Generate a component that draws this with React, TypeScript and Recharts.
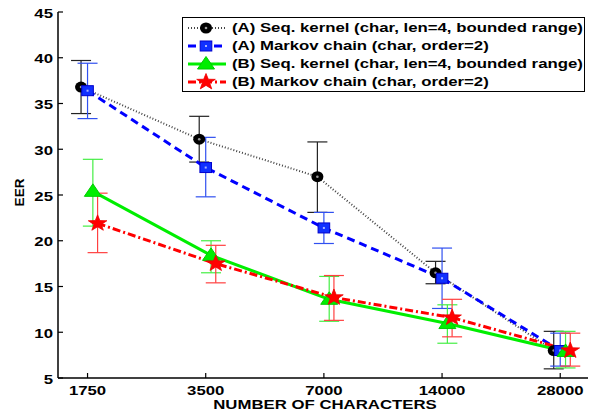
import React from 'react'
import { ComposedChart, Line, XAxis, YAxis, ErrorBar } from 'recharts'

// number of characters (log2 spaced, drawn at equal steps)
const characters = [1750, 3500, 7000, 14000, 28000]
const yTicks = [5, 10, 15, 20, 25, 30, 35, 40, 45]

// (A) Seq. kernel
const seqA = [36.8, 31.1, 27.0, 16.5, 8.0]
const seqALow = [33.9, 28.6, 23.1, 15.3, 6.0]
const seqAHigh = [39.7, 33.6, 30.8, 17.75, 10.1]

// (A) Markov chain
const markovA = [36.4, 28.0, 21.4, 15.9, 8.0]
const markovALow = [33.35, 24.8, 19.7, 12.6, 6.3]
const markovAHigh = [39.4, 31.3, 23.1, 19.2, 9.9]

// (B) Seq. kernel
const seqB = [25.4, 18.4, 13.6, 10.95, 7.9]
const seqBLow = [21.6, 16.5, 11.2, 8.8, 6.1]
const seqBHigh = [28.9, 20.0, 16.1, 13.0, 10.1]

// (B) Markov chain
const markovB = [21.9, 17.5, 13.8, 11.6, 8.0]
const markovBLow = [18.7, 15.4, 11.3, 9.5, 6.3]
const markovBHigh = [25.2, 19.5, 16.2, 13.6, 9.9]

const seriesNames = [
  '(A) Seq. kernel (char, len=4, bounded range)',
  '(A) Markov chain (char, order=2)',
  '(B) Seq. kernel (char, len=4, bounded range)',
  '(B) Markov chain (char, order=2)',
]
// small horizontal jitter so the error bars don't overlap
const seriesOffsets = [-0.055, 0, 0.045, 0.085]

const FONT = '"Liberation Sans", Arial, Helvetica, sans-serif'
const STRETCH = 1.29

type MarkerKind = 'circle' | 'square' | 'triangle' | 'star'

interface SeriesStyle {
  color: string
  errorColor: string
  width: number
  dash?: string
  marker: MarkerKind
}

const styles: SeriesStyle[] = [
  { color: '#444', errorColor: '#222', width: 2, dash: '1 2', marker: 'circle' },
  { color: '#0000ff', errorColor: '#3050f0', width: 3, dash: '8 5', marker: 'square' },
  { color: '#00ee00', errorColor: '#44ee44', width: 3, marker: 'triangle' },
  { color: '#ff0000', errorColor: '#ff4040', width: 3, dash: '8 3 2 3', marker: 'star' },
]

function buildRows(values: number[], low: number[], high: number[], offset: number) {
  return characters.map((_, i) => ({
    x: i + offset,
    y: values[i],
    err: [values[i] - low[i], high[i] - values[i]],
  }))
}

const seriesData = [
  buildRows(seqA, seqALow, seqAHigh, seriesOffsets[0]),
  buildRows(markovA, markovALow, markovAHigh, seriesOffsets[1]),
  buildRows(seqB, seqBLow, seqBHigh, seriesOffsets[2]),
  buildRows(markovB, markovBLow, markovBHigh, seriesOffsets[3]),
]

function starPoints(cx: number, cy: number, outer: number, inner: number) {
  const pts: string[] = []
  for (let k = 0; k < 10; k++) {
    const r = k % 2 === 0 ? outer : inner
    const a = -Math.PI / 2 + (k * Math.PI) / 5
    pts.push(`${cx + r * Math.cos(a) * 1.15},${cy + r * Math.sin(a)}`)
  }
  return pts.join(' ')
}

function MarkerShape({ kind, cx, cy }: { kind: MarkerKind; cx: number; cy: number }) {
  if (kind === 'circle') {
    return (
      <g>
        <ellipse cx={cx} cy={cy} rx={6} ry={5.5} fill="#000" />
        <circle cx={cx} cy={cy} r={1.3} fill="#999" />
      </g>
    )
  }
  if (kind === 'square') {
    return (
      <g>
        <rect x={cx - 5.8} y={cy - 5} width={11.6} height={10} fill="#1030ff" stroke="#0000cc" strokeWidth={1} />
        <rect x={cx - 1} y={cy - 1} width={2} height={2} fill="#aab4ff" />
      </g>
    )
  }
  if (kind === 'triangle') {
    return (
      <polygon
        points={`${cx},${cy - 7.5} ${cx - 8.5},${cy + 5} ${cx + 8.5},${cy + 5}`}
        fill="#00ee00"
        stroke="#00cc00"
        strokeWidth={1}
      />
    )
  }
  return <polygon points={starPoints(cx, cy, 8.5, 3.4)} fill="#ff0000" stroke="#ee0000" strokeWidth={0.8} />
}

function makeDot(kind: MarkerKind) {
  return (props: any) => {
    const { cx, cy, key, index } = props
    if (cx == null || cy == null) return <g key={key ?? index} />
    return (
      <g key={key ?? `${kind}-${index}`}>
        <MarkerShape kind={kind} cx={cx} cy={cy} />
      </g>
    )
  }
}

const tickText = {
  fontFamily: FONT,
  fontWeight: 700,
  fontSize: 13,
  fill: '#000',
}

function BottomTick(props: any) {
  const { x, y, payload } = props
  return (
    <g>
      <line x1={x} y1={y} x2={x} y2={y - 5} stroke="#000" strokeWidth={1.2} />
      <text transform={`translate(${x},${y + 17}) scale(${STRETCH},1)`} textAnchor="middle" {...tickText}>
        {characters[payload.value]}
      </text>
    </g>
  )
}

function TopTick(props: any) {
  const { x, y } = props
  return <line x1={x} y1={y} x2={x} y2={y + 5} stroke="#000" strokeWidth={1.2} />
}

function LeftTick(props: any) {
  const { x, y, payload } = props
  return (
    <g>
      <line x1={x} y1={y} x2={x + 5} y2={y} stroke="#000" strokeWidth={1.2} />
      <text transform={`translate(${x - 5},${y + 5.5}) scale(${STRETCH},1)`} textAnchor="end" {...tickText}>
        {payload.value}
      </text>
    </g>
  )
}

function RightTick(props: any) {
  const { x, y } = props
  return <line x1={x} y1={y} x2={x - 5} y2={y} stroke="#000" strokeWidth={1.2} />
}

function XTitle(props: any) {
  const { viewBox } = props
  const { x, y, width } = viewBox
  return (
    <text transform={`translate(${x + width / 2 + 2},${y + 30.5}) scale(${STRETCH},1)`} textAnchor="middle" {...tickText}>
      NUMBER OF CHARACTERS
    </text>
  )
}

function YTitle(props: any) {
  const { viewBox } = props
  const { y, height } = viewBox
  return (
    <text
      transform={`translate(24,${y + height / 2 - 2.5}) rotate(-90)`}
      textAnchor="middle"
      {...tickText}
      fontSize={13.5}
    >
      EER
    </text>
  )
}

function LegendSample({ s }: { s: SeriesStyle }) {
  return (
    <svg width={40} height={18} style={{ display: 'block', flex: 'none' }}>
      <line x1={1} y1={9} x2={39} y2={9} stroke={s.color} strokeWidth={s.width} strokeDasharray={s.dash} />
      <MarkerShape kind={s.marker} cx={19} cy={9} />
    </svg>
  )
}

const xDomain = [-0.25, 4.235]

export default function App() {
  return (
    <div style={{ position: 'absolute', left: 0, top: 0, width: 592, height: 414, background: '#fff' }}>
      <ComposedChart width={592} height={414} margin={{ top: 12, right: 4, left: 0, bottom: 0 }}>
        <XAxis
          xAxisId="bottom"
          type="number"
          dataKey="x"
          domain={xDomain}
          ticks={[0, 1, 2, 3, 4]}
          allowDataOverflow
          height={36}
          axisLine={{ stroke: '#000', strokeWidth: 1.5 }}
          tickLine={false}
          tickSize={0}
          tickMargin={0}
          tick={<BottomTick />}
          interval={0}
          label={{ content: <XTitle /> }}
        />
        <XAxis
          xAxisId="top"
          orientation="top"
          type="number"
          dataKey="x"
          domain={xDomain}
          ticks={[0, 1, 2, 3, 4]}
          allowDataOverflow
          height={0}
          axisLine={{ stroke: '#000', strokeWidth: 1.5 }}
          tickLine={false}
          tickSize={0}
          tickMargin={0}
          tick={<TopTick />}
          interval={0}
        />
        <YAxis
          yAxisId="left"
          type="number"
          domain={[5, 45]}
          ticks={yTicks}
          allowDataOverflow
          width={58}
          axisLine={{ stroke: '#000', strokeWidth: 1.5 }}
          tickLine={false}
          tickSize={0}
          tickMargin={0}
          tick={<LeftTick />}
          interval={0}
          label={{ content: <YTitle /> }}
        />
        <YAxis
          yAxisId="right"
          orientation="right"
          type="number"
          domain={[5, 45]}
          ticks={yTicks}
          allowDataOverflow
          width={0}
          axisLine={{ stroke: '#000', strokeWidth: 1.5 }}
          tickLine={false}
          tickSize={0}
          tickMargin={0}
          tick={<RightTick />}
          interval={0}
        />
        {seriesData.map((rows, i) => {
          const s = styles[i]
          return (
            <Line
              key={seriesNames[i]}
              xAxisId="bottom"
              yAxisId="left"
              data={rows}
              dataKey="y"
              type="linear"
              stroke={s.color}
              strokeWidth={s.width}
              strokeDasharray={s.dash}
              dot={makeDot(s.marker)}
              activeDot={false}
              isAnimationActive={false}
            >
              <ErrorBar dataKey="err" direction="y" width={10} stroke={s.errorColor} strokeWidth={1.2} />
            </Line>
          )
        })}
      </ComposedChart>
      <div
        style={{
          position: 'absolute',
          left: 182,
          top: 17,
          width: 403,
          height: 75,
          border: '1.5px solid #000',
          background: '#fff',
          boxSizing: 'border-box',
          paddingTop: 1.5,
        }}
      >
        {seriesNames.map((name, i) => (
          <div key={name} style={{ height: 17.8, display: 'flex', alignItems: 'center', paddingLeft: 3.5 }}>
            <LegendSample s={styles[i]} />
            <span
              style={{
                marginLeft: 5,
                fontFamily: FONT,
                fontWeight: 700,
                fontSize: 13,
                whiteSpace: 'nowrap',
                display: 'inline-block',
                transform: `scaleX(${STRETCH})`,
                transformOrigin: 'left center',
                lineHeight: '16px',
              }}
            >
              {name}
            </span>
          </div>
        ))}
      </div>
    </div>
  )
}
